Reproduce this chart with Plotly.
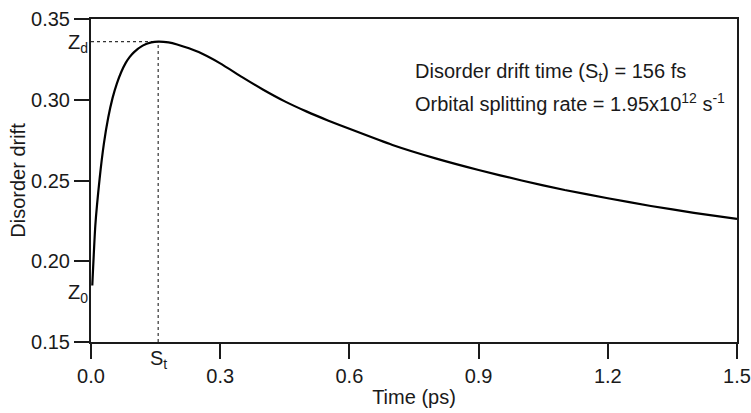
import plotly.graph_objects as go

# Data
time_ps = [0.003, 0.01, 0.02, 0.03, 0.04, 0.05, 0.06, 0.07, 0.08, 0.09, 0.10, 0.12,
           0.14, 0.156, 0.18, 0.20, 0.25, 0.30, 0.35, 0.40, 0.45, 0.50, 0.55, 0.60,
           0.70, 0.80, 0.90, 1.00, 1.10, 1.20, 1.30, 1.40, 1.50]
drift = [0.185, 0.222, 0.251, 0.273, 0.289, 0.301, 0.310, 0.317, 0.3225, 0.3265, 0.3295, 0.3335,
         0.3355, 0.3360, 0.3355, 0.3342, 0.3295, 0.3225, 0.3142, 0.3062, 0.2990, 0.2928, 0.2872, 0.2820,
         0.2720, 0.2637, 0.2565, 0.2500, 0.2441, 0.2390, 0.2342, 0.2300, 0.2262]

St = 0.156
Zd = 0.3360
Z0 = 0.185

x_ticks = [0.0, 0.3, 0.6, 0.9, 1.2, 1.5]
y_ticks = [0.15, 0.20, 0.25, 0.30, 0.35]

FONT = "Liberation Sans, Arial, sans-serif"
FS = 20
axis_col = "#1a1a1a"

fig = go.Figure()

# dashed guide lines
fig.add_trace(go.Scatter(x=[0, St], y=[Zd, Zd], mode="lines",
                         line=dict(color="#333", width=1.2, dash="3px,3px"),
                         hoverinfo="skip", showlegend=False))
fig.add_trace(go.Scatter(x=[St, St], y=[0.15, Zd], mode="lines",
                         line=dict(color="#333", width=1.2, dash="3px,3px"),
                         hoverinfo="skip", showlegend=False))

fig.add_trace(go.Scatter(x=time_ps, y=drift, mode="lines",
                         line=dict(color="black", width=2.2, shape="spline", smoothing=0.5),
                         showlegend=False))

fig.update_layout(
    width=751, height=413,
    margin=dict(l=91, r=14, t=19, b=71),
    paper_bgcolor="white", plot_bgcolor="white",
    font=dict(family=FONT, size=FS, color="#1a1a1a"),
    xaxis=dict(range=[0, 1.5], tickvals=x_ticks, ticktext=[f"{v:.1f}" for v in x_ticks],
               showgrid=False, zeroline=False, showline=True, linecolor=axis_col, linewidth=2,
               mirror=True, ticks="outside", ticklen=15, tickwidth=2, tickcolor=axis_col,
               automargin=False,
               title=dict(text="Time (ps)", standoff=4, font=dict(size=FS))),
    yaxis=dict(range=[0.15, 0.35], tickvals=y_ticks, ticktext=[f"{v:.2f}" for v in y_ticks],
               showgrid=False, zeroline=False, showline=True, linecolor=axis_col, linewidth=2,
               mirror=True, ticks="outside", ticklen=15, tickwidth=2, tickcolor=axis_col,
               automargin=False,
               title=dict(text="Disorder drift", standoff=0, font=dict(size=FS))),
)

fig.add_annotation(x=0, xref="paper", y=Zd, yref="y", text="Z<sub>d</sub>", xanchor="right",
                   yanchor="middle", xshift=-1, yshift=-2, showarrow=False)
fig.add_annotation(x=0, xref="paper", y=Z0, yref="y", text="Z<sub>0</sub>", xanchor="right",
                   yanchor="middle", xshift=-1, yshift=-8, showarrow=False)
fig.add_annotation(x=St, xref="x", y=0, yref="paper", text="S<sub>t</sub>", xanchor="center",
                   yanchor="top", yshift=-3, showarrow=False)
fig.add_annotation(x=(413 - 91) / 646, y=1 - (73 - 19) / 323, xref="paper", yref="paper",
                   text="Disorder drift time (S<sub>t</sub>) = 156 fs",
                   xanchor="left", yanchor="middle", showarrow=False)
fig.add_annotation(x=(413 - 91) / 646, y=1 - (102 - 19) / 323, xref="paper", yref="paper",
                   text="Orbital splitting rate = 1.95x10<sup>12</sup> s<sup>-1</sup>",
                   xanchor="left", yanchor="middle", showarrow=False)

fig.write_html("out.html")
